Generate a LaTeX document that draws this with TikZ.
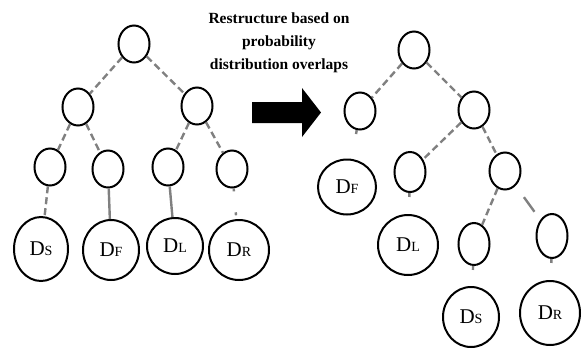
\documentclass[tikz,border=0pt]{standalone}
\usepackage{fontspec}
\setmainfont{Liberation Serif}
\usetikzlibrary{shapes.geometric}
\begin{document}
\begin{tikzpicture}[x=1pt,y=-1pt,
  sn/.style={ellipse, draw, line width=2pt, minimum width=31pt, minimum height=37pt, inner sep=0pt},
  dn/.style={ellipse, draw, line width=2pt, minimum width=56pt, minimum height=60pt, inner sep=0pt, font=\fontsize{21}{21}\selectfont},
  ed/.style={draw=black!50, line width=2.4pt, dash pattern=on 7pt off 4pt},
  es/.style={draw=black!50, line width=2.4pt},
  stub/.style={draw=black!50, line width=2.4pt, dash pattern=on 4pt off 200pt},
  gap/.style={draw=black!50, line width=2.4pt, dash pattern=on 3pt off 21pt}]
\useasboundingbox (0,0) rectangle (582,349);
\newcommand{\dl}[1]{D{\fontsize{14}{14}\selectfont #1}}
% left tree
\node[sn] (lr) at (134,44) {};
\node[sn] (la) at (78,107) {};
\node[sn] (lb) at (197,106) {};
\node[sn] (la1) at (50,167) {};
\node[sn] (la2) at (108,169) {};
\node[sn] (lb1) at (168,167) {};
\node[sn] (lb2) at (232,169) {};
\node[dn, minimum width=54pt, minimum height=64pt] (lds) at (41,249) {\dl{S}};
\node[dn] (ldf) at (111,250) {\dl{F}};
\node[dn, minimum height=56pt] (ldl) at (175,246) {\dl{L}};
\node[dn, minimum width=60pt] (ldr) at (239,250) {\dl{R}};
\draw[ed] (lr) -- (la);
\draw[ed] (lr) -- (lb);
\draw[ed] (la) -- (la1);
\draw[ed] (la) -- (la2);
\draw[ed] (lb) -- (lb1);
\draw[ed] (lb) -- (lb2);
\draw[ed] (la1) -- (lds);
\draw[es] (la2) -- (ldf);
\draw[es] (lb1) -- (ldl);
\draw[gap] (lb2) -- (ldr);
% text and arrow
\node[align=center, font=\bfseries\fontsize{15.5}{23}\selectfont] (txt) at (279,43)
  {Restructure based on\\probability\\distribution overlaps};
\fill (252,102) -- (302,102) -- (302,88) -- (321,112.5) -- (302,137) -- (302,123) -- (252,123) -- cycle;
% right tree
\node[sn] (rr) at (414,50) {};
\node[sn] (ra) at (360,111) {};
\node[sn] (rb) at (474,110) {};
\node[sn, minimum height=40pt] (rb1) at (410,172) {};
\node[sn] (rb2) at (505,171) {};
\node[sn, minimum height=42pt] (rc1) at (474,244) {};
\node[sn, minimum height=44pt] (rc2) at (552,236) {};
\node[dn, minimum width=58pt, minimum height=55pt] (rdf) at (347,187) {\dl{F}};
\node[dn, minimum width=60pt] (rdl) at (408,245) {\dl{L}};
\node[dn] (rds) at (471,317) {\dl{S}};
\node[dn, minimum width=60pt, minimum height=64pt] (rdr) at (550,313) {\dl{R}};
\draw[ed] (rr) -- (ra);
\draw[ed] (rr) -- (rb);
\draw[ed] (rb) -- (rb1);
\draw[ed] (rb) -- (rb2);
\draw[ed] (rb2) -- (rc1);
\draw[ed, dash pattern=on 0pt off 14pt on 18pt off 100pt] (rb2) -- (rc2);
\draw[stub] (ra) -- (rdf);
\draw[stub] (rb1) -- (rdl);
\draw[stub] (rc1) -- (rds);
\draw[stub] (rc2) -- (rdr);
\end{tikzpicture}
\end{document}
